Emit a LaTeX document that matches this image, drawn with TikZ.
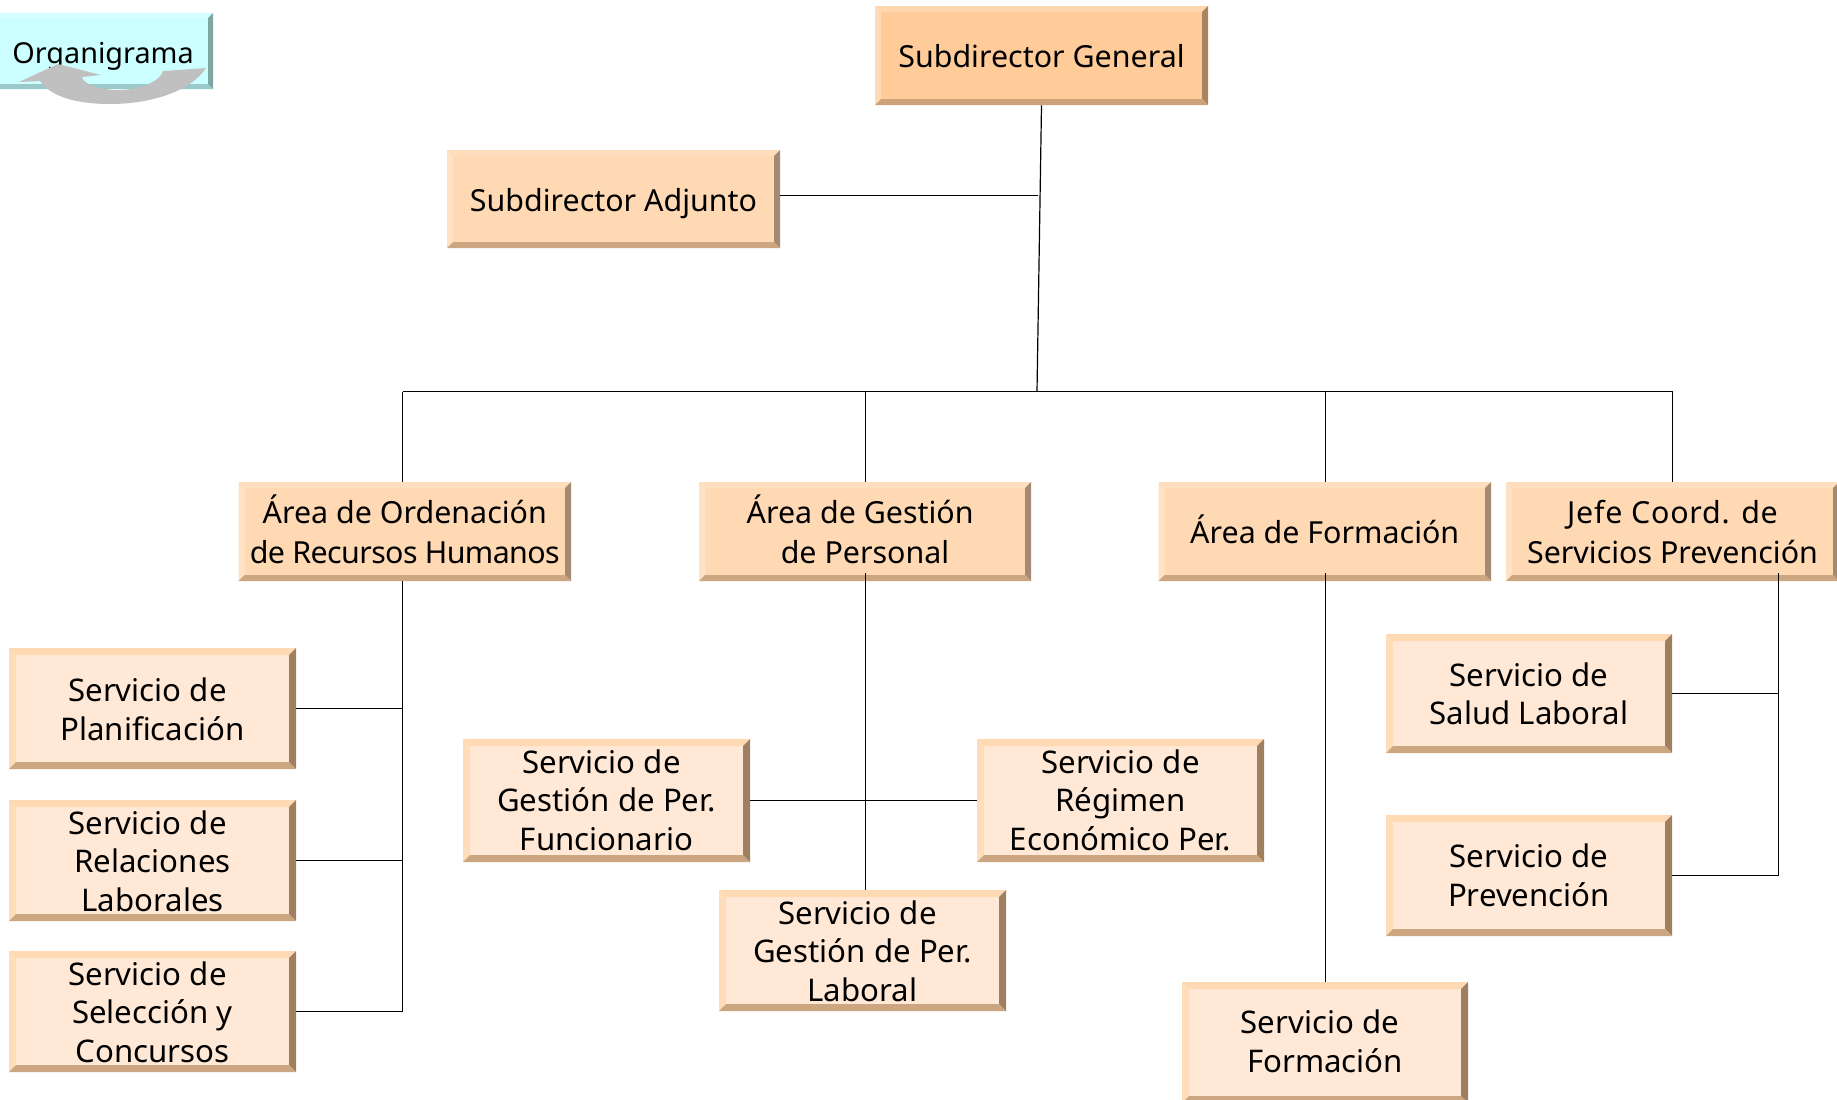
\documentclass[tikz,border=0pt]{standalone}
\usepackage{fontspec}
\setmainfont{Noto Sans}
\definecolor{aFill}{HTML}{FFCC99}\definecolor{aTop}{HTML}{FFD6AD}\definecolor{aLeft}{HTML}{FFDBB8}\definecolor{aRight}{HTML}{A8855F}\definecolor{aBot}{HTML}{CCA37A}
\definecolor{bFill}{HTML}{FFD9B3}\definecolor{bTop}{HTML}{FFDEBD}\definecolor{bLeft}{HTML}{FFE2C6}\definecolor{bRight}{HTML}{A38A70}\definecolor{bBot}{HTML}{CCA680}
\definecolor{cFill}{HTML}{FFE9D6}\definecolor{cTop}{HTML}{FFD9B3}\definecolor{cLeft}{HTML}{FFDDBB}\definecolor{cRight}{HTML}{9E7F60}\definecolor{cBot}{HTML}{CCA680}
\definecolor{dFill}{HTML}{CCFFFF}\definecolor{dTop}{HTML}{D6FFFF}\definecolor{dLeft}{HTML}{D6FFFF}\definecolor{dRight}{HTML}{7FA5A5}\definecolor{dBot}{HTML}{99C9C9}
\definecolor{arrowGrey}{HTML}{C0C0C0}
\tikzset{
  boxtext/.style={inner sep=0pt,align=center,text=black,anchor=base},
  alevel/.style={font=\fontsize{15.2}{19}\selectfont},
  blevel/.style={font=\fontsize{15.2}{19.6}\selectfont},
  clevel/.style={font=\fontsize{15.6}{19.1}\selectfont},
  dlevel/.style={font=\fontsize{14.4}{19}\selectfont},
  link/.style={draw=black,line width=0.6pt},
}
% #1 colour prefix, #2 name, #3 x0, #4 y0, #5 x1, #6 y1, #7 bevel, #8 baseline of last line, #9 text
\newcommand{\bevbox}[9]{%
  \node[inner sep=0pt,fill=#1Fill,minimum width={(#5-#3)*0.5pt},minimum height={(#6-#4)*0.5pt}] (#2) at ({(#3+#5)/2},{(#4+#6)/2}) {};
  \coordinate (#2-a) at (#3,#4);
  \coordinate (#2-b) at (#5,#4);
  \coordinate (#2-c) at (#5,#6);
  \coordinate (#2-d) at (#3,#6);
  \fill[#1Top] (#2-a)--(#2-b)--([shift={(-#7,#7)}]#2-b)--([shift={(#7,#7)}]#2-a)--cycle;
  \fill[#1Left] (#2-a)--(#2-d)--([shift={(#7,-#7)}]#2-d)--([shift={(#7,#7)}]#2-a)--cycle;
  \fill[#1Right] (#2-b)--(#2-c)--([shift={(-#7,-#7)}]#2-c)--([shift={(-#7,#7)}]#2-b)--cycle;
  \fill[#1Bot] (#2-d)--(#2-c)--([shift={(-#7,-#7)}]#2-c)--([shift={(#7,-#7)}]#2-d)--cycle;
  \node[boxtext,#1level] (#2-t) at ({(#3+#5)/2},#8) {#9};
}
\newcommand{\tr}{\hspace*{0.32em}}
\begin{document}
\begin{tikzpicture}[x=0.5pt,y=-0.5pt]
\useasboundingbox (0,0) rectangle (1837,1099);
\clip (0,0) rectangle (1837,1099);
\fill[white] (0,0) rectangle (1837,1099);

\bevbox{d}{org}{-10}{13}{213}{89}{5}{63}{\hspace*{1.5pt}Organigrama}
\bevbox{a}{sg}{875}{6}{1208}{105}{6}{67}{Subdirector General}
\bevbox{b}{adj}{447}{150}{780}{248}{6}{211}{Subdirector Adjunto}
\bevbox{b}{ao}{238.5}{482}{571}{581}{6}{563}{Área de Ordenación\\{\addfontfeature{LetterSpace=-2}de Recursos Humanos}}
\bevbox{b}{ag}{699}{482}{1031}{581}{6}{563}{Área de Gestión\tr\\de Personal}
\bevbox{b}{af}{1158.5}{482}{1491}{581}{6}{543}{Área de Formación}
\bevbox{b}{jc}{1506}{482}{1839}{581}{6}{563}{{\addfontfeature{LetterSpace=2.5}Jefe Coord. de}\\Servicios Prevención}

\bevbox{c}{pl}{9}{648}{296}{769}{7}{740}{Servicio de\tr\\Planificación}
\bevbox{c}{rl}{9}{800}{296}{921}{7}{911}{Servicio de\tr\\Relaciones\\Laborales}
\bevbox{c}{sc}{9}{951}{296}{1072}{7}{1062}{Servicio de\tr\\Selección y\tr\\Concursos}
\bevbox{c}{gf}{463}{739}{750}{862}{7}{850}{Servicio de\tr\\Gestión de Per.\\Funcionario}
\bevbox{c}{re}{977}{739}{1264}{862}{7}{850}{Servicio de\\Régimen\\Económico Per.}
\bevbox{c}{gl}{719}{890}{1006}{1011}{7}{1001}{Servicio de\tr\\Gestión de Per.\\Laboral}
\bevbox{c}{fo}{1182}{982}{1468}{1103}{7}{1072}{Servicio de\tr\\Formación}
\bevbox{c}{sl}{1386}{634}{1672}{753}{7}{724.5}{Servicio de\\Salud Laboral}
\bevbox{c}{pv}{1386}{815}{1672}{936}{7}{906}{Servicio de\\Prevención}

% junctions
\coordinate (busT) at (1037,391.5);
\coordinate (adjJ) at (1038,195.5);
\coordinate (busL) at (402.5,391.5);
\coordinate (busG) at (865.5,391.5);
\coordinate (busF) at (1325.5,391.5);
\coordinate (busJ) at (1672.5,391.5);
\coordinate (spO) at (402.5,581);
\coordinate (spG) at (865.5,573);
\coordinate (spF) at (1325.5,573);
\coordinate (spJ) at (1778.5,573);

\draw[link] (sg.south) -- (busT);
\draw[link] (adj.east |- adjJ) -- (adjJ);
\draw[link] (busL) -- (busJ);
\draw[link] (busL) -- (busL |- ao.north);
\draw[link] (busG) -- (busG |- ag.north);
\draw[link] (busF) -- (busF |- af.north);
\draw[link] (busJ) -- (busJ |- jc.north);

\draw[link] (spO) |- (sc.east);
\draw[link] (pl.east) -- (pl.east -| spO);
\draw[link] (rl.east) -- (rl.east -| spO);

\draw[link] (spG) -- (spG |- gl.north);
\draw[link] (gf.east) -- (re.west);

\draw[link] (spF) -- (spF |- fo.north);

\draw[link] (spJ) |- (pv.east);
\draw[link] (sl.east) -- (sl.east -| spJ);

% grey return arrow
\fill[arrowGrey] (19,82) -- (58,64) -- (101,75) -- (82,77)
  .. controls (84,88) and (118,94) .. (140,87)
  .. controls (153,83) and (161,78) .. (163,71)
  -- (206,68)
  .. controls (190,92) and (150,104) .. (110,104)
  .. controls (75,104) and (50,96) .. (40,81) -- cycle;
\end{tikzpicture}
\end{document}
